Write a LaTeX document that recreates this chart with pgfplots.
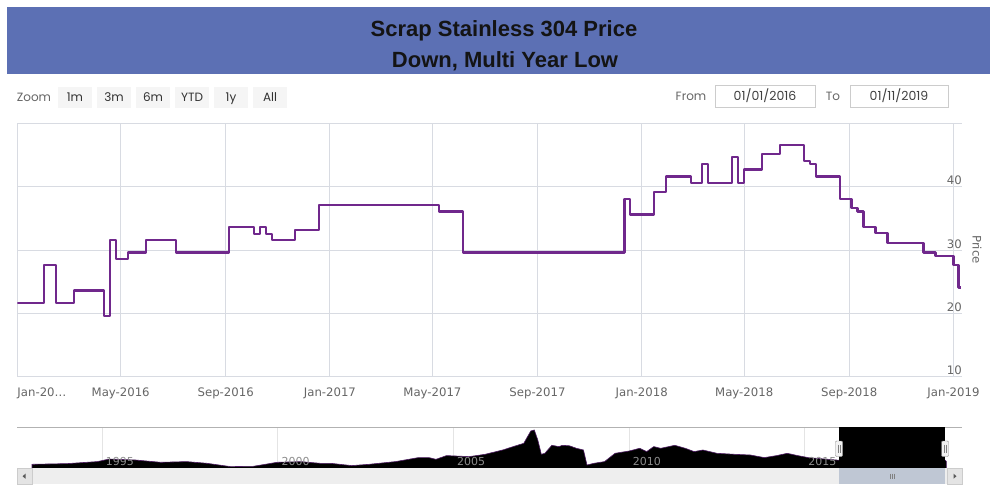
\documentclass[border=0pt]{standalone}
\usepackage{pgfplots}
\pgfplotsset{compat=1.18}
\usepackage{fontspec}
\setmainfont{DejaVu Sans}
\newfontfamily\titlefont{Liberation Sans}
\newfontfamily\uifont{Poppins}
\definecolor{banner}{RGB}{92,112,180}
\definecolor{linec}{RGB}{112,40,140}
\definecolor{gridc}{RGB}{216,219,226}
\definecolor{labc}{RGB}{102,102,102}
\definecolor{btnc}{RGB}{245,245,245}
\definecolor{boxc}{RGB}{204,204,204}
\definecolor{navgrid}{RGB}{228,228,228}
\definecolor{thumbc}{RGB}{191,199,212}
\definecolor{trackc}{RGB}{238,238,238}
\definecolor{btn2}{RGB}{228,228,228}

\begin{document}
\begin{tikzpicture}[x=1pt,y=-1pt]
\path[use as bounding box, fill=white] (0,0) rectangle (992,485);
% title banner
\fill[banner] (6.7,7.3) rectangle (990,74);
\node[anchor=base, inner sep=0pt, text=black!92] at (504,36.7) {\titlefont\bfseries\fontsize{22}{26}\selectfont Scrap Stainless 304 Price};
\node[anchor=base, inner sep=0pt, text=black!92] at (505,67.3) {\titlefont\bfseries\fontsize{22}{26}\selectfont Down, Multi Year Low};
% range selector
\node[anchor=base, inner sep=0pt, text=labc] at (34,101.5) {\uifont\fontsize{12}{14}\selectfont Zoom};
\foreach \i/\t in {0/1m,1/3m,2/6m,3/YTD,4/1y,5/All}{
  \fill[btnc] ({58+39*\i},87) rectangle ({92+39*\i},108);
  \node[anchor=base, inner sep=0pt, text=black!80] at ({75+39*\i},101.5) {\uifont\fontsize{12}{14}\selectfont \t};
}
\node[anchor=base, inner sep=0pt, text=labc] at (691,100.5) {\uifont\fontsize{12}{14}\selectfont From};
\draw[boxc, fill=white] (715,85) rectangle (815,107.5);
\node[anchor=base, inner sep=0pt, text=black!75] at (765,100.5) {\uifont\fontsize{12.5}{14}\selectfont 01/01/2016};
\node[anchor=base, inner sep=0pt, text=labc] at (833,100.5) {\uifont\fontsize{12}{14}\selectfont To};
\draw[boxc, fill=white] (850,85) rectangle (948,107.5);
\node[anchor=base, inner sep=0pt, text=black!75] at (899,100.5) {\uifont\fontsize{12.5}{14}\selectfont 01/11/2019};

% main chart
\begin{axis}[
  at={(17.3pt,-376.7pt)}, anchor=south west,
  width=944.7pt, height=253.3pt, scale only axis,
  xmin=0, xmax=1106, ymin=10, ymax=50,
  axis line style={draw=none},
  major tick length=0pt,
  grid=major, grid style={color=gridc, line width=0.9pt},
  xtick={121,244,366,486,609,731,851,974,1096},
  xticklabels={May-2016,Sep-2016,Jan-2017,May-2017,Sep-2017,Jan-2018,May-2018,Sep-2018,Jan-2019},
  extra x ticks={0}, extra x tick labels={Jan-20…},
  extra x tick style={grid=major, xticklabel style={anchor=base west}},
  xticklabel style={anchor=base, inner sep=0pt, yshift=-19.8pt},
  ytick={10,20,30,40,50}, yticklabels={10,20,30,40,{}},
  yticklabel pos=right,
  yticklabel style={anchor=base east, inner sep=0pt, yshift=1.8pt, xshift=0pt},
  ticklabel style={font=\fontsize{11.7}{13}\selectfont, text=labc},
  /pgf/number format/assume math mode=true,
]
\addplot[const plot, color=linec, line width=2.3pt, line join=round] coordinates {
(0,21.6) (31,27.6) (45,21.6) (66,23.6) (101.5,19.6) (108.5,31.6)
(115.5,28.6) (129.6,29.6) (150.7,31.6) (185.8,29.6) (248,33.6)
(277,32.5) (284,33.6) (291,32.5) (298,31.6) (325.5,33.2) (353.6,37.1)
(494,36.1) (521.5,29.6) (711,38.1) (717.5,35.6) (745.5,39.2)
(759.6,41.6) (788.5,40.6) (801.8,43.6) (808.8,40.6) (836.9,44.7)
(844,40.6) (851,42.7) (872,45.2) (893,46.6) (921,44.1) (928,43.6)
(935,41.6) (963,38.1) (976.6,36.6) (983.6,36.1) (990.6,33.6)
(1004.6,32.65) (1018.7,31.1) (1060.9,29.6) (1075,29.1) (1096,27.6)
(1102,24.1) (1105,24.1)
};
\end{axis}
\node[rotate=-90, inner sep=0pt, text=labc] at (977,249.5) {\fontsize{11.7}{13}\selectfont Price};

% navigator
\begin{axis}[
  at={(32pt,-468.3pt)}, anchor=south west,
  width=915pt, height=41pt, scale only axis,
  xmin=1993, xmax=2019.05, ymin=0, ymax=41,
  axis line style={draw=none},
  major tick length=0pt,
  xmajorgrids, grid style={color=navgrid, line width=0.8pt},
  xtick={1995,2000,2005,2010,2015},
  xticklabels={},
  ytick=\empty,
  clip=false,
]
\addplot[draw=linec!70!black, line width=0.6pt, fill=black] coordinates {
(1993.0,4) (1994.0,4.7) (1994.86,6.7) (1995.2,9.3) (1995.95,8.3) (1996.66,6)
(1997.4,6.7) (1997.98,5) (1998.65,1.7) (1999.3,2) (1999.98,6) (2000.65,6.7)
(2001.2,5) (2001.5,5) (2002.1,2.7) (2002.6,4) (2003.35,6.7) (2004.0,10.7)
(2004.3,10.7) (2004.5,9) (2004.8,12.7) (2005.45,11.7) (2005.9,14) (2006.4,18.3)
(2006.7,21.7) (2007.0,25) (2007.2,37.3) (2007.3,38.3) (2007.4,28.3) (2007.5,14)
(2007.6,15) (2007.8,23) (2008.0,21.7) (2008.1,23) (2008.3,22.5) (2008.5,20)
(2008.7,18.3) (2008.8,3.3) (2009.0,5) (2009.3,6.7) (2009.6,15) (2010.0,17.3)
(2010.3,20) (2010.5,16.7) (2010.7,21.7) (2010.9,20) (2011.3,23) (2011.6,20)
(2011.85,16.7) (2012.1,18.3) (2012.5,15) (2013.0,14) (2013.45,13.3) (2013.85,10.7)
(2014.2,12.7) (2014.5,15) (2014.8,12.7) (2015.1,10.7) (2015.9,8.3) (2016.0,8)
(2016.5,11) (2017.0,13.7) (2017.5,11) (2018.0,14) (2018.5,17) (2018.9,11) (2019.03,7)
} \closedcycle;
\foreach \yr in {1995,2000,2005,2010,2015}{
  \edef\temp{\noexpand\node[anchor=base west, inner sep=0pt, xshift=3.5pt, yshift=3.3pt, text=black!45, font=\noexpand\fontsize{11}{12}\noexpand\selectfont] at (axis cs:\yr,0) {\yr};}
  \temp
}
\end{axis}
% navigator outline
\draw[black!30, line width=1.2pt] (17,427.3) -- (962,427.3);
% selection mask
\fill[black] (839,427.3) rectangle (945,468.3);
% scrollbar
\fill[trackc] (17,468.3) rectangle (962,484);
\fill[thumbc] (839,468.3) rectangle (945,484);
\foreach \dx in {-2,0,2}{ \draw[black!50, line width=0.5pt] ({892+\dx},473.5) -- ({892+\dx},479); }
\draw[boxc, fill=btn2] (17,468.3) rectangle (32,484);
\draw[boxc, fill=btn2] (947,468.3) rectangle (962,484);
\fill[black!65] (22.5,476.2) -- (25.5,473.7) -- (25.5,478.7) -- cycle;
\fill[black!65] (956.5,476.2) -- (953.5,473.7) -- (953.5,478.7) -- cycle;
% handles
\foreach \hx in {839,945}{
  \draw[black!45, fill=black!5, rounded corners=1pt] ({\hx-3.5},441) rectangle ({\hx+3.5},456.5);
  \draw[black!50, line width=0.4pt] ({\hx-1},444.5) -- ({\hx-1},453);
  \draw[black!50, line width=0.4pt] ({\hx+1},444.5) -- ({\hx+1},453);
}
\end{tikzpicture}
\end{document}
